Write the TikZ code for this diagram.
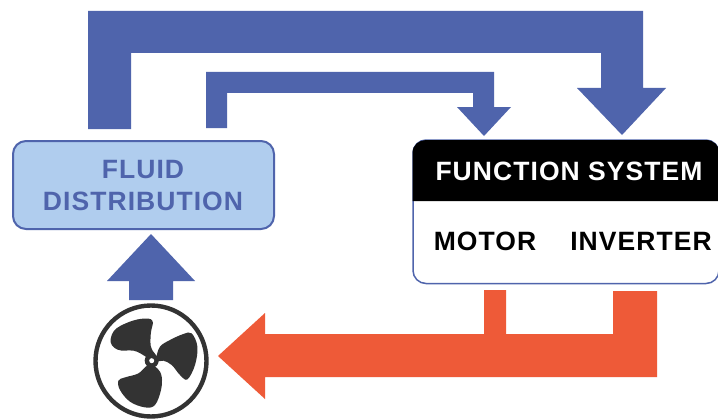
\documentclass[tikz,border=0pt]{standalone}
\usepackage{fontspec}
\setmainfont{Liberation Sans}[LetterSpace=4]
\definecolor{flow}{HTML}{4F64AC}
\definecolor{heat}{HTML}{EE5A38}
\definecolor{pale}{HTML}{B0CDEE}
\definecolor{fanc}{HTML}{333333}
\tikzset{
  flowshape/.style={fill=flow,draw=none},
  heatshape/.style={fill=heat,draw=none},
  lab/.style={font=\bfseries\fontsize{26.5}{33}\selectfont,inner sep=0pt,align=center}
}
\begin{document}
\begin{tikzpicture}[x=1pt,y=-1pt]
\useasboundingbox (0,0) rectangle (718,420);
\fill[white] (0,0) rectangle (718,420);
% big blue
\path[flowshape] (88,129) -- (88,11) -- (643,11) -- (643,88) -- (666,88) -- (622,135) -- (577,88) -- (601,88) -- (601,53) -- (131,53) -- (131,129) -- cycle;
% small blue
\path[flowshape] (206,128) -- (206,72) -- (494,72) -- (494,107) -- (511,107) -- (484,136) -- (457,107) -- (473,107) -- (473,93) -- (227,93) -- (227,128) -- cycle;
% fluid box
\node[draw=flow,line width=2pt,fill=pale,rounded corners=13pt,minimum width=261pt,minimum height=88pt,inner sep=0pt] (fluid) at (143.5,185) {};
\node[lab,text=flow] (fluidt) at (143,186) {FLUID\\[-1pt]DISTRIBUTION};
% up arrow
\path[flowshape] (129,300) -- (129,281) -- (107,281) -- (151,234) -- (195,281) -- (173,281) -- (173,300) -- cycle;
% function system box
\draw[flow,line width=1.5pt,fill=white,rounded corners=13pt] (413,200) -- (413,283.5) -- (719,283.5) -- (719,140) -- (413,140) -- cycle;
\fill[black] (412.5,201) -- (412.5,153) .. controls (412.5,145) and (419,140) .. (426,140) -- (706,140) .. controls (714,140) and (719.5,146) .. (719.5,153) -- (719.5,201) -- cycle;
\node[lab,text=white] (fs) at (569,171) {FUNCTION SYSTEM};
\node[lab] (motor) at (485,241) {MOTOR};
\node[lab] (inv) at (641,241) {INVERTER};
% red
\path[heatshape] (484,290) -- (506,290) -- (506,334) -- (613,334) -- (613,291) -- (657,291) -- (657,377) -- (265,377) -- (265,399) -- (218,356) -- (265,313) -- (265,334) -- (484,334) -- cycle;
% fan
\node[circle,draw=fanc,line width=4.4pt,minimum size=111pt,inner sep=0pt] (fan) at (151,361) {};
\begin{scope}[shift={(151.7,360.7)}]
\fill[fanc] (-3,-2) .. controls (-9,-6) and (-13,-9) .. (-18,-10) .. controls (-24,-11) and (-29,-9) .. (-34,-11) .. controls (-39,-13) and (-42,-17) .. (-41,-22) .. controls (-40,-28) and (-37,-32) .. (-31,-35) .. controls (-23,-39) and (-13,-43) .. (-3,-42) .. controls (0,-42) and (2,-39) .. (1,-36) .. controls (0,-32) and (-1,-29) .. (-1,-26) .. controls (-1,-21) and (-2,-18) .. (-1,-15) .. controls (0,-11) and (2,-8) .. (4,-6) -- cycle;
\fill[fanc] plot[smooth cycle,tension=.6] coordinates {(4.3,-2.3) (8.3,-14) (18.3,-20.7) (31.7,-26.7) (40,-27.3) (45.7,-14) (43.3,4.3) (35.7,18.7) (28.3,14.3) (20,4.3) (11.7,0) (4.3,1)};
\fill[fanc] plot[smooth cycle,tension=.6] coordinates {(-3.3,4.3) (-13.3,12.7) (-26.7,16.7) (-33.3,20) (-31.7,29.3) (-21.7,41) (-6.7,46.7) (3.3,44.3) (9.3,29.3) (10,16) (5.7,7.7)};
\fill[fanc] (0,0) circle (7);
\fill[white] (0,0) circle (2.5);
\end{scope}
\end{tikzpicture}
\end{document}
